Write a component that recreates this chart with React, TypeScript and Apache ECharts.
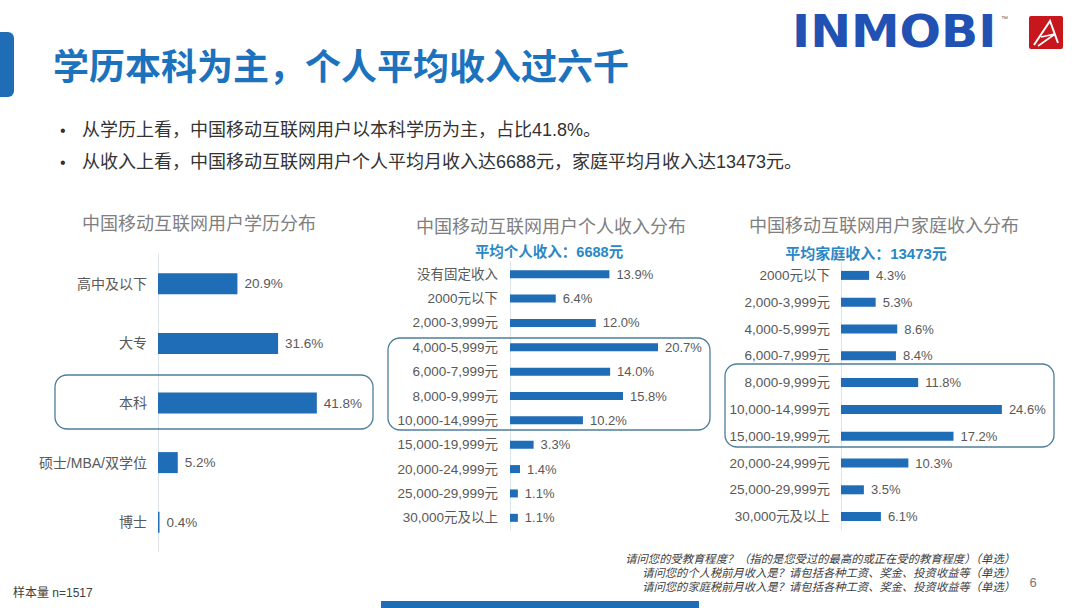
import React, { useEffect, useRef } from "react";
import * as echarts from "echarts";

const eduCats = ["高中及以下", "大专", "本科", "硕士/MBA/双学位", "博士"];
const eduVals = [20.9, 31.6, 41.8, 5.2, 0.4];

const personalCats = [
  "没有固定收入",
  "2000元以下",
  "2,000-3,999元",
  "4,000-5,999元",
  "6,000-7,999元",
  "8,000-9,999元",
  "10,000-14,999元",
  "15,000-19,999元",
  "20,000-24,999元",
  "25,000-29,999元",
  "30,000元及以上",
];
const personalVals = [13.9, 6.4, 12.0, 20.7, 14.0, 15.8, 10.2, 3.3, 1.4, 1.1, 1.1];

const familyCats = [
  "2000元以下",
  "2,000-3,999元",
  "4,000-5,999元",
  "6,000-7,999元",
  "8,000-9,999元",
  "10,000-14,999元",
  "15,000-19,999元",
  "20,000-24,999元",
  "25,000-29,999元",
  "30,000元及以上",
];
const familyVals = [4.3, 5.3, 8.6, 8.4, 11.8, 24.6, 17.2, 10.3, 3.5, 6.1];

const bullets = [
  "从学历上看，中国移动互联网用户以本科学历为主，占比41.8%。",
  "从收入上看，中国移动互联网用户个人平均月收入达6688元，家庭平均月收入达13473元。",
];
const notes = [
  "请问您的受教育程度？（指的是您受过的最高的或正在受的教育程度）（单选）",
  "请问您的个人税前月收入是？请包括各种工资、奖金、投资收益等（单选）",
  "请问您的家庭税前月收入是？请包括各种工资、奖金、投资收益等（单选）",
];

const FONT = "'Liberation Sans', 'Noto Sans CJK SC', sans-serif";
const BLUE = "#1f6db6";
const GRAY = "#595959";

function txt(text: string, x: number, y: number, opts: any = {}) {
  return {
    type: "text",
    x,
    y,
    silent: true,
    style: {
      text,
      fill: opts.fill || GRAY,
      fontSize: opts.fontSize || 14,
      fontWeight: opts.fontWeight || "normal",
      fontStyle: opts.fontStyle || "normal",
      fontFamily: opts.fontFamily || FONT,
      textAlign: opts.align || "left",
      textVerticalAlign: "middle",
    },
    scaleX: opts.scaleX || 1,
  };
}

export default function App() {
  const ref = useRef<HTMLDivElement>(null);
  useEffect(() => {
    if (!ref.current) return;
    const chart = echarts.init(ref.current, undefined, { renderer: "svg" });
    const grids = [
      { left: 158, top: 254, width: 190, height: 298 },
      { left: 510, top: 262, width: 214.5, height: 268 },
      { left: 841, top: 262, width: 196.2, height: 268 },
    ];
    const cats = [eduCats, personalCats, familyCats];
    const vals = [eduVals, personalVals, familyVals];
    const maxes = [50, 30, 30];
    const barW = [21, 8, 9];
    const labelSize = [14, 13.5, 13.5];
    const valSize = [13.5, 13, 13];
    const labelMargin = [11, 12, 11];

    const option: any = {
      animation: false,
      backgroundColor: "#ffffff",
      grid: grids.map((g) => ({ ...g, containLabel: false })),
      xAxis: grids.map((_, i) => ({
        type: "value",
        gridIndex: i,
        min: 0,
        max: maxes[i],
        show: false,
      })),
      yAxis: grids.map((_, i) => ({
        type: "category",
        gridIndex: i,
        data: cats[i],
        inverse: true,
        axisLine: { show: true, lineStyle: { color: "#dfe4ea", width: 1 } },
        axisTick: { show: false },
        splitLine: { show: false },
        axisLabel: {
          color: GRAY,
          fontSize: labelSize[i],
          fontFamily: FONT,
          margin: labelMargin[i],
        },
      })),
      series: grids.map((_, i) => ({
        type: "bar",
        xAxisIndex: i,
        yAxisIndex: i,
        data: vals[i],
        barWidth: barW[i],
        itemStyle: { color: BLUE },
        label: {
          show: true,
          position: "right",
          distance: 7,
          color: GRAY,
          fontSize: valSize[i],
          fontFamily: FONT,
          formatter: (p: any) => Number(p.value).toFixed(1) + "%",
        },
      })),
      graphic: [
        // left accent
        { type: "rect", shape: { x: 0, y: 32, width: 14, height: 65, r: [0, 6, 6, 0] }, style: { fill: BLUE }, silent: true },
        txt("学历本科为主，个人平均收入过六千", 53, 64, {
          fill: "#1c72bd",
          fontSize: 36,
          fontWeight: "bold",
          fontFamily: "'Noto Sans CJK SC', sans-serif",
        }),
        // logo
        txt("INMOBI", 792, 32, {
          fill: "#2151b2",
          fontSize: 44,
          fontWeight: "bold",
          fontFamily: "'DejaVu Sans', sans-serif",
          scaleX: 1.11,
        }),
        txt("™", 1001, 18, { fill: "#666", fontSize: 7 }),
        { type: "rect", shape: { x: 1029, y: 16, width: 34, height: 33, r: 2 }, style: { fill: "#c8161d" }, silent: true },
        {
          type: "polyline",
          shape: { points: [[1034, 45], [1050, 21], [1058, 43]] },
          style: { stroke: "#ffffff", lineWidth: 2, fill: "none" },
          silent: true,
        },
        {
          type: "polyline",
          shape: { points: [[1041, 37], [1055, 34], [1038, 46]] },
          style: { stroke: "#ffffff", lineWidth: 1.6, fill: "none" },
          silent: true,
        },
        // bullets
        txt("•", 60, 130, { fill: "#333", fontSize: 16 }),
        txt(bullets[0], 82, 130, { fill: "#333", fontSize: 18 }),
        txt("•", 60, 162, { fill: "#333", fontSize: 16 }),
        txt(bullets[1], 82, 162, { fill: "#333", fontSize: 18 }),
        // chart titles
        txt("中国移动互联网用户学历分布", 199, 224, { fill: "#7f7f7f", fontSize: 18, align: "center" }),
        txt("中国移动互联网用户个人收入分布", 551, 227, { fill: "#7f7f7f", fontSize: 18, align: "center" }),
        txt("平均个人收入：6688元", 549, 252, { fill: "#2a87c6", fontSize: 14.5, fontWeight: "bold", align: "center" }),
        txt("中国移动互联网用户家庭收入分布", 884, 226, { fill: "#7f7f7f", fontSize: 18, align: "center" }),
        txt("平均家庭收入：13473元", 866, 253, { fill: "#2a87c6", fontSize: 15, fontWeight: "bold", align: "center" }),
        // highlight boxes
        { type: "rect", shape: { x: 55, y: 375, width: 318, height: 54, r: 12 }, style: { fill: "none", stroke: "#4e7d9b", lineWidth: 1.3 }, silent: true, z: 10 },
        { type: "rect", shape: { x: 388, y: 338, width: 322, height: 92, r: 12 }, style: { fill: "none", stroke: "#4e7d9b", lineWidth: 1.3 }, silent: true, z: 10 },
        { type: "rect", shape: { x: 725, y: 364, width: 329, height: 83, r: 12 }, style: { fill: "none", stroke: "#4e7d9b", lineWidth: 1.3 }, silent: true, z: 10 },
        // notes
        txt(notes[0], 1015, 559, { fill: "#404040", fontSize: 11.3, fontStyle: "italic", align: "right" }),
        txt(notes[1], 1015, 573, { fill: "#404040", fontSize: 11.3, fontStyle: "italic", align: "right" }),
        txt(notes[2], 1015, 587, { fill: "#404040", fontSize: 11.3, fontStyle: "italic", align: "right" }),
        txt("6", 1033, 582, { fill: "#777", fontSize: 13, align: "center" }),
        txt("样本量 n=1517", 13, 593, { fill: "#404040", fontSize: 12 }),
        { type: "rect", shape: { x: 381, y: 601, width: 318, height: 7 }, style: { fill: BLUE }, silent: true },
      ],
    };
    chart.setOption(option);
    return () => chart.dispose();
  }, []);
  return (
    <div
      ref={ref}
      style={{ position: "fixed", left: 0, top: 0, width: 1080, height: 608 }}
    />
  );
}
